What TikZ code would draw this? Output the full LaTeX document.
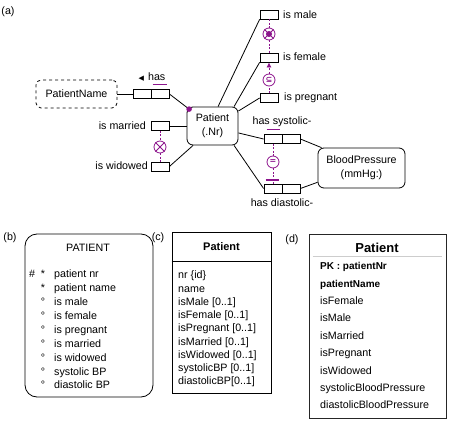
\documentclass[tikz,border=0pt]{standalone}
\usepackage{fontspec}
\setmainfont{Liberation Sans}
\newfontfamily\symfont{DejaVu Sans}
\usetikzlibrary{arrows.meta}
\definecolor{orm}{RGB}{140,20,140}
\definecolor{sepgray}{RGB}{205,205,205}
\begin{document}
\begin{tikzpicture}[x=1pt,y=-1pt, font=\fontsize{10.7}{14}\selectfont,
  role/.style={draw, minimum width=18pt, minimum height=9pt, inner sep=0pt, line width=0.8pt},
  ent/.style={draw, rounded corners=6pt, line width=0.8pt, align=center, inner sep=0pt},
  conn/.style={line width=0.8pt},
  cons/.style={circle, draw=orm, line width=0.8pt, minimum size=12pt, inner sep=0pt, text=orm},
  cline/.style={draw=orm, dash pattern=on 2pt off 1.5pt, line width=0.7pt},
  ubar/.style={draw=orm, line width=1.2pt},
  lbl/.style={inner sep=1pt},
  rowtxt/.style={anchor=west, inner sep=0pt, text height=8pt, text depth=2.5pt},
  rowc/.style={inner sep=0pt, text height=8pt, text depth=2.5pt},
  ]
\useasboundingbox (0,0) rectangle (450,425);

% ---------------- (a) ----------------
\node (la) at (8,12) {(a)};
\node[ent, minimum width=51pt, minimum height=38pt] (P) at (212.5,126) {Patient\\(.Nr)};
\node[ent, dashed, rounded corners=5pt, minimum width=81pt, minimum height=28pt] (PN) at (76.5,94) {PatientName};
\node[ent, minimum width=87pt, minimum height=40pt] (BP) at (361.5,168) {BloodPressure\\(mmHg:)};

\node[role] (h1) at (142,94) {};
\node[role] (h2) at (160,94) {};
\node[role] (mar) at (160,126) {};
\node[role] (wid) at (160,166.5) {};
\node[role] (male) at (269,14.5) {};
\node[role] (fem) at (269,57.5) {};
\node[role] (preg) at (269,98) {};
\node[role] (s1) at (273,139) {};
\node[role] (s2) at (291,139) {};
\node[role] (d1) at (273,188.5) {};
\node[role] (d2) at (291,188.5) {};

\node[lbl, anchor=east] (lmar) at (147,126) {is married};
\node[lbl, anchor=east] (lwid) at (149,166) {is widowed};
\node[lbl, anchor=west] (lmale) at (282,15) {is male};
\node[lbl, anchor=west] (lfem) at (282,57) {is female};
\node[lbl, anchor=west] (lpreg) at (283,98) {is pregnant};
\node[lbl] (lsys) at (282,122) {has systolic-};
\node[lbl] (ldia) at (282,203) {has diastolic-};
\node[lbl] (lhas) at (152,77) {{\symfont\fontsize{7}{7}\selectfont ◀}\hspace{4pt}has};

\coordinate (dot) at ([shift={(2.5,2.5)}]P.north west);

\draw[conn] (PN.east) -- (h1.west);
\draw[conn] (h2.east) -- (dot);
\draw[conn] (mar.east) -- (P.west);
\draw[conn] (wid.east) -- (P.225);
\draw[conn] (male.south west) -- (P.74);
\draw[conn] (fem.south west) -- (P.42);
\draw[conn] (preg.west) -- (P.30);
\draw[conn] (P.345) -- (s1.west);
\draw[conn] (P.318) -- (d1.west);
\draw[conn] (s2.east) -- (BP.153);
\draw[conn] (d2.east) -- (BP.198);
\fill[orm] (dot) circle (2.8pt);

% constraints
\node[cons] (x1) at (160,147) {};
\draw[orm, line width=0.8pt] (x1.45) -- (x1.225) (x1.135) -- (x1.315);
\node[cons] (xor) at (269,34) {};
\draw[orm, line width=0.8pt] (xor.45) -- (xor.225) (xor.135) -- (xor.315);
\fill[orm] (xor) circle (3pt);
\node[cons] (sub) at (269,80) {\symfont\bfseries\fontsize{8}{8}\selectfont ⊆};
\node[cons] (eq) at (273,162) {\symfont\bfseries\fontsize{8}{8}\selectfont =};

\draw[cline] (mar.south) -- (x1.north);
\draw[cline] (x1.south) -- (wid.north);
\draw[cline] (male.south) -- (xor.north);
\draw[cline] (xor.south) -- (fem.north);
\draw[cline] (preg.north) -- (sub.south);
\draw[cline, -{Latex[length=5pt,width=5pt]}] (sub.north) -- (fem.south);
\draw[cline] (s1.south) -- (eq.north);
\draw[cline] (eq.south) -- (d1.north);

\draw[ubar] ([shift={(2,-4.5)}]h2.north west) -- ([shift={(-2,-4.5)}]h2.north east);
\draw[ubar] ([shift={(3,-4.5)}]s1.north west) -- ([shift={(-2,-4.5)}]s1.north east);
\draw[ubar] ([shift={(2,-3.5)}]d1.north west) -- ([shift={(-3,-3.5)}]d1.north east);

% ---------------- (b) ----------------
\node (lb) at (10,238) {(b)};
\node[draw, line width=0.8pt, rounded corners=12pt, minimum width=128pt, minimum height=163pt, inner sep=0pt] (B) at (89,315.5) {};
\node (bt) at (88,248) {PATIENT};
\foreach \t [count=\i] in {patient nr, patient name, is male, is female, is pregnant, is married, is widowed, systolic BP, diastolic BP}
  \node[rowtxt] (b\i) at (54,{275+13.9*(\i-1)}) {\t};
\node[rowc] (bh) at (32,275) {\#};
\node[rowc] (bs1) at (43,275) {*};
\node[rowc] (bs2) at (43,288.9) {*};
\foreach \i in {3,...,9}
  \node[rowc] (bo\i) at (43,{275+13.9*(\i-1)}) {°};

% ---------------- (c) ----------------
\node (lc) at (158,238) {(c)};
\node[draw, line width=0.8pt, minimum width=99pt, minimum height=161pt, inner sep=0pt] (C) at (221.5,312.5) {};
\draw[line width=0.8pt] ([shift={(0,30)}]C.north west) -- ([shift={(0,30)}]C.north east);
\node[font=\fontsize{11}{13}\selectfont\bfseries] (ct) at (221.5,247) {Patient};
\foreach \t [count=\i] in {nr \{id\}, name, isMale [0..1], isFemale [0..1], isPregnant [0..1], isMarried [0..1], isWidowed [0..1], systolicBP [0..1], diastolicBP[0..1]}
  \node[rowtxt] (c\i) at (178,{276+13.25*(\i-1)}) {\t};

% ---------------- (d) ----------------
\node (ld) at (292,240) {(d)};
\node[draw=black!85, line width=0.9pt, minimum width=137pt, minimum height=184pt, inner sep=0pt] (D) at (377.5,326) {};
\draw[sepgray, line width=1.5pt] ([shift={(4,23)}]D.north west) -- ([shift={(-4,23)}]D.north east);
\node[font=\fontsize{13}{15}\selectfont\bfseries] (dt) at (377,248) {Patient};
\node[rowtxt, font=\fontsize{10}{12}\selectfont\bfseries] (d1r) at (320,267) {PK : patientNr};
\node[rowtxt, font=\fontsize{10}{12}\selectfont\bfseries] (d2r) at (320,284.4) {patientName};
\foreach \t [count=\i from 3] in {isFemale, isMale, isMarried, isPregnant, isWidowed, systolicBloodPressure, diastolicBloodPressure}
  \node[rowtxt] (d\i r) at (320,{267+17.4*(\i-1)}) {\t};
\end{tikzpicture}
\end{document}
